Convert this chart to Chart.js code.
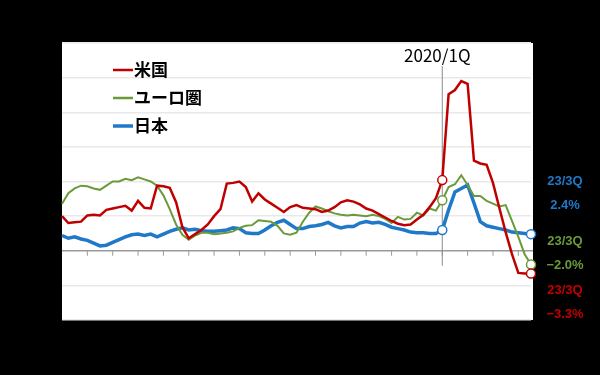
<!DOCTYPE html>
<html lang="ja">
    <head>
        <meta charset="UTF-8" />
        <title>マネーストック 前年比</title>
        <script src="https://cdn.jsdelivr.net/npm/chart.js"></script>
        <style>
            html, body { margin: 0; padding: 0; background: #000; }
            #wrap { width: 600px; height: 375px; }
        </style>
    </head>
    <body>
        <div id="wrap"><canvas id="myChart" width="600" height="375"></canvas></div>

        <script>
            // 2005/1Q .. 2023/3Q (quarterly)
            const quarters = []
            for (let y = 2005; y <= 2023; y++) {
                for (let q = 1; q <= 4; q++) {
                    if (y === 2023 && q > 3) break
                    quarters.push(String(y).slice(2) + '/' + q + 'Q')
                }
            }

            const yTicks = [30, 25, 20, 15, 10, 5, 0, -5, -10]

            const usValues = [
                5.0, 4.0, 4.1, 4.2, 5.1, 5.2, 5.1, 5.9, 6.1, 6.3,
                6.5, 5.8, 7.2, 6.2, 6.1, 9.4, 9.3, 9.1, 7.0, 3.4,
                1.8, 2.4, 3.0, 3.8, 5.0, 6.0, 9.7, 9.8, 10.0, 9.2,
                7.1, 8.3, 7.4, 6.8, 6.2, 5.6, 6.3, 6.6, 6.2, 6.1,
                6.0, 5.6, 5.8, 6.3, 7.0, 7.3, 7.1, 6.7, 6.1, 5.8,
                5.3, 4.8, 4.3, 3.9, 3.7, 3.8, 4.5, 5.2, 6.3, 7.6,
                10.2, 22.6, 23.2, 24.5, 24.1, 13.0, 12.6, 12.4, 9.8, 6.2,
                2.7, -0.5, -3.2, -3.3, -3.3,
            ]
            const euroValues = [
                6.8, 8.3, 9.0, 9.4, 9.3, 9.0, 8.8, 9.4, 10.0, 10.0,
                10.4, 10.2, 10.6, 10.3, 10.0, 9.4, 8.0, 6.0, 3.8, 2.3,
                1.6, 2.2, 2.6, 2.6, 2.4, 2.5, 2.6, 2.8, 3.3, 3.6,
                3.7, 4.4, 4.3, 4.2, 3.6, 2.5, 2.3, 2.6, 4.2, 5.5,
                6.4, 6.1, 5.7, 5.4, 5.2, 5.1, 5.2, 5.1, 5.0, 5.2,
                5.0, 4.6, 4.0, 4.9, 4.5, 4.6, 5.5, 5.1, 6.1, 5.8,
                7.3, 9.2, 9.6, 10.9, 9.5, 7.9, 7.9, 7.2, 6.8, 6.4,
                6.6, 4.3, 2.0, -0.5, -2.0,
            ]
            const japanValues = [
                2.2, 1.8, 2.0, 1.7, 1.5, 1.1, 0.7, 0.8, 1.2, 1.6,
                2.0, 2.3, 2.4, 2.2, 2.4, 2.0, 2.4, 2.8, 3.1, 3.3,
                3.0, 3.1, 2.9, 2.8, 2.8, 2.9, 3.0, 3.3, 3.2, 2.6,
                2.5, 2.5, 3.0, 3.6, 4.1, 4.4, 3.8, 3.2, 3.2, 3.5,
                3.6, 3.8, 4.1, 3.6, 3.3, 3.5, 3.5, 4.0, 4.2, 4.0,
                4.1, 3.8, 3.4, 3.2, 3.0, 2.7, 2.6, 2.6, 2.5, 2.5,
                3.0, 5.9, 8.5, 9.0, 9.5, 6.9, 4.2, 3.6, 3.4, 3.2,
                3.0, 2.7, 2.6, 2.5, 2.4,
            ]

            const markIndex = quarters.indexOf('20/1Q')
            const lastIndex = quarters.length - 1

            const endLabels = [
                { text: ['23/3Q', '2.4%'], color: '#1f78c8', y: 181 },
                { text: ['23/3Q', '−2.0%'], color: '#6a9a3a', y: 241 },
                { text: ['23/3Q', '−3.3%'], color: '#c00000', y: 290 },
            ]

            const makeSet = (label, values, color, width) => ({
                label: label,
                data: values,
                borderColor: color,
                borderWidth: width,
                pointRadius: (ctx) => (ctx.dataIndex === markIndex || ctx.dataIndex === lastIndex ? 4.5 : 0),
                pointBackgroundColor: '#fff',
                pointBorderColor: color,
                pointBorderWidth: 1.5,
                tension: 0,
            })

            const data = {
                labels: quarters,
                datasets: [
                    makeSet('米国', usValues, '#c00000', 2.5),
                    makeSet('ユーロ圏', euroValues, '#6a9a3a', 2),
                    makeSet('日本', japanValues, '#1f78c8', 3.5),
                ],
            }

            const decorations = {
                id: 'decorations',
                beforeDraw(chart) {
                    const { ctx, chartArea } = chart
                    ctx.save()
                    ctx.fillStyle = '#fff'
                    ctx.fillRect(chartArea.left, chartArea.top, chartArea.right - chartArea.left + 2, chartArea.bottom - chartArea.top)
                    ctx.restore()
                },
                beforeDatasetsDraw(chart) {
                    const { ctx, chartArea, scales } = chart
                    const x = scales.x
                    const y0 = scales.y.getPixelForValue(0)
                    ctx.save()
                    // zero line with year ticks
                    ctx.strokeStyle = '#9a9a9a'
                    ctx.lineWidth = 1.5
                    ctx.beginPath()
                    ctx.moveTo(chartArea.left, y0)
                    ctx.lineTo(chartArea.right + 2, y0)
                    ctx.stroke()
                    ctx.lineWidth = 1
                    quarters.forEach((q, i) => {
                        if (q.endsWith('/1Q') && i > 0) {
                            const px = x.getPixelForValue(i)
                            ctx.beginPath()
                            ctx.moveTo(px, y0)
                            ctx.lineTo(px, y0 + 5)
                            ctx.stroke()
                        }
                    })
                    // 2020/1Q marker
                    const mx = x.getPixelForValue(markIndex)
                    ctx.strokeStyle = '#8c8c8c'
                    ctx.beginPath()
                    ctx.moveTo(mx, 66)
                    ctx.lineTo(mx, y0 + 15)
                    ctx.stroke()
                    ctx.restore()
                },
                afterDraw(chart) {
                    const { ctx, scales } = chart
                    const mx = scales.x.getPixelForValue(markIndex)
                    ctx.save()
                    ctx.fillStyle = '#000'
                    ctx.textBaseline = 'middle'
                    ctx.font = '17px "Noto Sans CJK JP", sans-serif'
                    ctx.textAlign = 'center'
                    ctx.fillText('2020/1Q', mx - 5, 56)

                    // legend
                    ctx.textAlign = 'left'
                    ctx.font = 'bold 17px "Noto Sans CJK JP", sans-serif'
                    chart.data.datasets.forEach((ds, i) => {
                        const ly = 70 + i * 28
                        ctx.strokeStyle = ds.borderColor
                        ctx.lineWidth = i === 2 ? 3.5 : 2.5
                        ctx.beginPath()
                        ctx.moveTo(113, ly)
                        ctx.lineTo(133, ly)
                        ctx.stroke()
                        ctx.fillStyle = '#000'
                        ctx.fillText(ds.label, 134, ly)
                    })

                    // titles
                    ctx.font = 'bold 13px "Noto Sans CJK JP", sans-serif'
                    ctx.fillText('(前年比、%)', 64, 33)
                    ctx.fillText('(年)', 534, 358)

                    // end labels
                    ctx.textAlign = 'center'
                    ctx.font = 'bold 13px "Liberation Sans", Arial, sans-serif'
                    endLabels.forEach((lb) => {
                        ctx.fillStyle = lb.color
                        ctx.fillText(lb.text[0], 565, lb.y)
                        ctx.fillText(lb.text[1], 565, lb.y + 24)
                    })
                    ctx.restore()
                },
            }

            const config = {
                type: 'line',
                data: data,
                options: {
                    responsive: false,
                    animation: false,
                    layout: {
                        padding: { top: 43, right: 69, left: 0, bottom: 0 },
                    },
                    plugins: {
                        legend: { display: false },
                        tooltip: { enabled: false },
                    },
                    scales: {
                        x: {
                            offset: false,
                            grid: { display: false },
                            border: { display: false },
                            afterFit(scale) {
                                scale.height = 55
                            },
                            ticks: {
                                autoSkip: false,
                                maxRotation: 0,
                                padding: 8,
                                color: '#000',
                                font: { size: 14, weight: 'bold', family: 'Liberation Sans' },
                                callback: (v, i) => (quarters[i].endsWith('/1Q') ? quarters[i].slice(0, 2) : null),
                            },
                        },
                        y: {
                            min: -10,
                            max: 30,
                            afterFit(scale) {
                                scale.width = 62
                            },
                            afterBuildTicks(scale) {
                                scale.ticks = yTicks.map((v) => ({ value: v }))
                            },
                            border: { display: false },
                            grid: {
                                color: (ctx) => (ctx.tick && ctx.tick.value === 0 ? 'rgba(0,0,0,0)' : '#e9e9e9'),
                                lineWidth: 1.5,
                                drawTicks: false,
                            },
                            ticks: {
                                padding: 12,
                                color: '#000',
                                font: { size: 14, weight: 'bold', family: 'Liberation Sans' },
                            },
                        },
                    },
                },
                plugins: [decorations],
            }

            const myChart = new Chart(document.getElementById('myChart'), config)
        </script>
    </body>
</html>
